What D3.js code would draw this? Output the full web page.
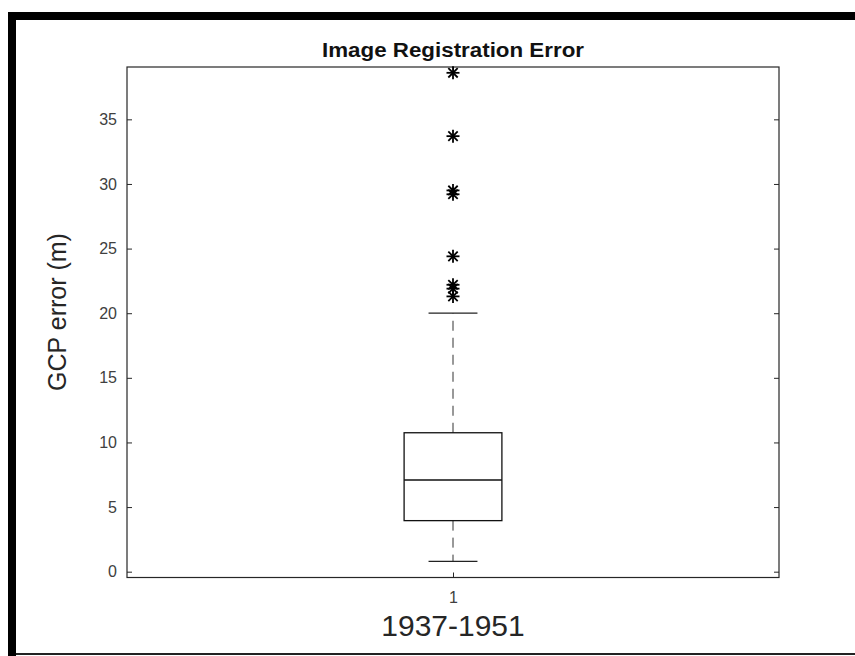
<!DOCTYPE html>
<html><head><meta charset="utf-8">
<script src="https://cdn.jsdelivr.net/npm/d3@7"></script>
<style>body{margin:0;background:#fff}svg{display:block}</style>
</head><body>
<svg id="c" width="855" height="656"></svg>
<script>
// ---- data ----
const categories = ["1"];
const groupLabel = "1937-1951";
const whiskerLow = [0.8];
const q1 = [3.95];
const median = [7.1];
const q3 = [10.75];
const whiskerHigh = [20.0];
const outliers = [38.6, 33.7, 29.5, 29.2, 24.4, 22.2, 21.9, 21.3];
const yTicks = [0, 5, 10, 15, 20, 25, 30, 35];
const yDomain = [-0.45, 39.05];

// ---- layout ----
const svg = d3.select("#c");
const L = 127, R = 779, T = 67, B = 577.5;
const axisColor = "#262626";

// frame
svg.append("rect").attr("x",8).attr("y",12).attr("width",847).attr("height",8).attr("fill","#000");
svg.append("rect").attr("x",8).attr("y",12).attr("width",8).attr("height",644).attr("fill","#000");
svg.append("rect").attr("x",16).attr("y",653).attr("width",839).attr("height",2).attr("fill","#222");

const x = d3.scalePoint().domain(categories).range([L, R]).padding(0.5);
const xBand = d3.scaleLinear().domain([0.5, 1.5]).range([L, R]);
const y = d3.scaleLinear().domain(yDomain).range([B, T]);

// axes box
svg.append("rect").attr("x",L).attr("y",T).attr("width",R-L).attr("height",B-T)
  .attr("fill","none").attr("stroke",axisColor).attr("stroke-width",1.2);

const fontTick = "Liberation Sans, Arial, sans-serif";
const yAxis = d3.axisLeft(y).tickValues(yTicks).tickSizeInner(-5).tickSizeOuter(0).tickPadding(10);
const gy = svg.append("g").attr("transform",`translate(${L},0)`).call(yAxis);
gy.select(".domain").remove();
gy.selectAll("line").attr("stroke",axisColor);
gy.selectAll("text").attr("fill","#404040").style("font-family",fontTick).style("font-size","16px");

const yAxisR = d3.axisRight(y).tickValues(yTicks).tickSizeInner(-5).tickSizeOuter(0).tickFormat("");
const gyr = svg.append("g").attr("transform",`translate(${R},0)`).call(yAxisR);
gyr.select(".domain").remove();
gyr.selectAll("line").attr("stroke",axisColor);

const xAxis = d3.axisBottom(x).tickSizeInner(-5).tickSizeOuter(0).tickPadding(14);
const gx = svg.append("g").attr("transform",`translate(0,${B})`).call(xAxis);
gx.select(".domain").remove();
gx.selectAll("line").attr("stroke",axisColor);
gx.selectAll("text").attr("fill","#404040").style("font-family",fontTick).style("font-size","16px");

const xAxisT = d3.axisTop(x).tickSizeInner(-5).tickSizeOuter(0).tickFormat("");
const gxt = svg.append("g").attr("transform",`translate(0,${T})`).call(xAxisT);
gxt.select(".domain").remove();
gxt.selectAll("line").attr("stroke",axisColor);

// boxes
const boxW = (xBand(1.075) - xBand(0.925));
const capW = boxW/2;
const g = svg.append("g");
categories.forEach((c,i)=>{
  const cx = x(c);
  g.append("line").attr("x1",cx).attr("x2",cx).attr("y1",y(q3[i])).attr("y2",y(whiskerHigh[i]))
    .attr("stroke","#333").attr("stroke-width",1).attr("stroke-dasharray","10,7");
  g.append("line").attr("x1",cx).attr("x2",cx).attr("y1",y(q1[i])).attr("y2",y(whiskerLow[i]))
    .attr("stroke","#333").attr("stroke-width",1).attr("stroke-dasharray","10,7");
  [whiskerHigh[i], whiskerLow[i]].forEach(v=>{
    g.append("line").attr("x1",cx-capW/2).attr("x2",cx+capW/2).attr("y1",y(v)).attr("y2",y(v))
      .attr("stroke","#222").attr("stroke-width",1.2);
  });
  g.append("rect").attr("x",cx-boxW/2).attr("y",y(q3[i])).attr("width",boxW).attr("height",y(q1[i])-y(q3[i]))
    .attr("fill","none").attr("stroke","#111").attr("stroke-width",1.3);
  g.append("line").attr("x1",cx-boxW/2).attr("x2",cx+boxW/2).attr("y1",y(median[i])).attr("y2",y(median[i]))
    .attr("stroke","#111").attr("stroke-width",1.5);
  const s = 6.5;
  outliers.forEach(v=>{
    const oy = y(v);
    const m = g.append("g").attr("transform",`translate(${cx},${oy})`).attr("stroke","#000").attr("stroke-width",1.8);
    m.append("line").attr("x1",-s).attr("x2",s).attr("y1",0).attr("y2",0);
    m.append("line").attr("x1",0).attr("x2",0).attr("y1",-s).attr("y2",s);
    m.append("line").attr("x1",-s*0.72).attr("x2",s*0.72).attr("y1",-s*0.72).attr("y2",s*0.72);
    m.append("line").attr("x1",-s*0.72).attr("x2",s*0.72).attr("y1",s*0.72).attr("y2",-s*0.72);
  });
});

// title & labels
svg.append("text").attr("x",(L+R)/2).attr("y",57).attr("text-anchor","middle")
  .style("font-family",fontTick).style("font-weight","bold").style("font-size","20px").attr("fill","#111")
  .attr("textLength",262).attr("lengthAdjust","spacingAndGlyphs")
  .text("Image Registration Error");
svg.append("text").attr("x",(L+R)/2).attr("y",636).attr("text-anchor","middle")
  .style("font-family",fontTick).style("font-size","30px").attr("fill","#262626")
  .text(groupLabel);
svg.append("text").attr("transform",`translate(66,312) rotate(-90)`).attr("text-anchor","middle")
  .style("font-family",fontTick).style("font-size","25px").attr("fill","#262626")
  .text("GCP error (m)");
</script>
</body></html>
